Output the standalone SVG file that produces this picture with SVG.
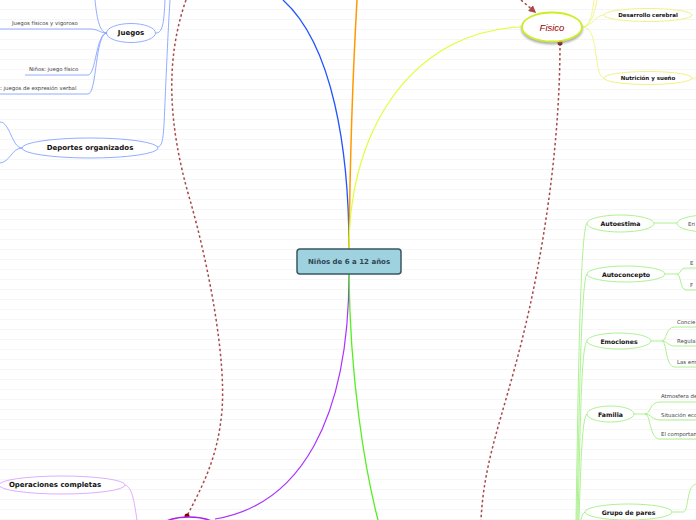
<svg xmlns="http://www.w3.org/2000/svg" width="696" height="520" viewBox="0 0 696 520">
<defs>
<pattern id="lines" width="696" height="10" patternUnits="userSpaceOnUse">
<rect width="696" height="10" fill="#ffffff"/>
<line x1="0" y1="9.5" x2="696" y2="9.5" stroke="#f6f6f6" stroke-width="1"/>
</pattern>
<marker id="arr" viewBox="0 0 10 10" refX="8" refY="5" markerWidth="5" markerHeight="5" orient="auto">
<path d="M0,0 L10,5 L0,10 z" fill="#a84848"/>
</marker>
<filter id="sh" x="-20%" y="-20%" width="140%" height="160%">
<feDropShadow dx="0" dy="2" stdDeviation="1.2" flood-color="#888" flood-opacity="0.7"/>
</filter>
</defs>
<style>
.nb{font-family:"DejaVu Sans",Verdana,sans-serif;font-weight:bold;fill:#111;text-anchor:middle;dominant-baseline:central}
.sm{font-family:"DejaVu Sans",Verdana,sans-serif;font-size:5.4px;fill:#444}
.bl{fill:none;stroke:#7799ff;stroke-width:0.8}
.gl{fill:none;stroke:#99ee77;stroke-width:0.8}
.yl{fill:none;stroke:#eef377;stroke-width:0.8}
.dash{fill:none;stroke:#a84848;stroke-width:1.5;stroke-dasharray:2.5,2.5}
.eb{fill:#fff;stroke:#7799ff;stroke-width:0.8}
.eg{fill:#fff;stroke:#99ee77;stroke-width:0.8}
.ey{fill:#fff;stroke:#eeee66;stroke-width:0.8}
</style>
<rect width="696" height="520" fill="url(#lines)"/>

<g id="connectors">
<path d="M349,249 C349,150 333,45 283,0" fill="none" stroke="#2255ff" stroke-width="1.3"/>
<path d="M349,249 C350,160 353,70 357,0" fill="none" stroke="#ff9900" stroke-width="1.5"/>
<path d="M349,249 C349,120 420,30 522,27" fill="none" stroke="#ddff33" stroke-width="1.2"/>
<path d="M349,274 C349,420 300,505 215,519" fill="none" stroke="#aa33ff" stroke-width="1.2"/>
<path d="M349,274 C350,380 365,470 378,520" fill="none" stroke="#55ee22" stroke-width="1.3"/>
<path class="bl" d="M156,33 C162,33 164,25 165,0"/>
<path class="bl" d="M157,147 C162,147 163,140 164,125 C166,80 168,30 170,0"/>
<path class="bl" d="M107,33 C100,33 97,20 95,0"/>
<path class="bl" d="M0,29 L90,29 C98,29 100,33 107,33"/>
<path class="bl" d="M25,75 L88,75 C96,75 96,33 107,33"/>
<path class="bl" d="M0,94 L88,94 C97,94 95,33 107,33"/>
<path class="bl" d="M22,148 C12,148 10,122 0,122"/>
<path class="bl" d="M22,148 C12,148 10,162 0,163"/>
<path class="yl" d="M582,27 C590,27 592,15 594,0"/>
<path class="yl" d="M582,27 C592,26 595,10 597,0"/>
<path class="yl" d="M582,27 C592,27 595,15 604,15"/>
<path class="yl" d="M582,27 C592,27 594,40 596,55 C598,70 600,78 604,78"/>
<path class="yl" d="M692,78 L696,78"/>
<path class="gl" d="M576,520 C578,400 580,230 587,223"/>
<path class="gl" d="M577,520 C579,420 581,280 587,274"/>
<path class="gl" d="M578,520 C580,440 581,345 587,341"/>
<path class="gl" d="M579,520 C581,460 582,418 587,414"/>
<path class="gl" d="M581,520 Q582,513 585,512"/>
<path class="gl" d="M654,223 L677,223" stroke-width="1.5"/>
<path class="gl" d="M665,274 L677,274" stroke="#66ee33" stroke-width="1.2"/>
<path class="gl" d="M677,274 C681,274 680,268 686,268 L696,268"/>
<path class="gl" d="M677,274 C681,274 680,290 686,290 L696,290"/>
<path class="gl" d="M651,341 L662,341" stroke="#66ee33" stroke-width="1.2"/>
<path class="gl" d="M662,341 C667,341 665,327 675,327 L696,327"/>
<path class="gl" d="M662,341 C667,341 668,346 675,346 L696,346"/>
<path class="gl" d="M662,341 C667,341 665,367 675,367 L696,367"/>
<path class="gl" d="M634,414 L645,414" stroke="#66ee33" stroke-width="2"/>
<path class="gl" d="M645,414 C651,414 649,402 660,402 L696,402"/>
<path class="gl" d="M645,414 C651,414 652,420 660,420 L696,420"/>
<path class="gl" d="M645,414 C651,414 649,439 660,439 L696,439"/>
<path class="gl" d="M672,512 L683,512" stroke="#66ee33" stroke-width="1.2"/>
<path class="gl" d="M683,512 C689,512 686,486 696,484"/>
<path d="M125,485 C132,487 134,500 137,520" fill="none" stroke="#d399ff" stroke-width="0.8"/>
<path class="dash" d="M186,0 C165,60 168,125 190,200 C210,270 226,360 222,410 C218,460 200,490 187,516"/>
<path class="dash" d="M560,43 C560,150 542,260 522,340 C502,420 484,460 481,520"/>
<path class="dash" d="M521,0 L535,12" marker-end="url(#arr)"/>
<circle cx="187" cy="516" r="2.5" fill="#8b0000"/>
<circle cx="560" cy="43" r="2.5" fill="#8b0000"/>
</g>

<g id="center">
<rect x="297" y="249" width="104" height="25" rx="3" fill="#9ed2df" stroke="#3b5666" stroke-width="1.5"/>
<text x="349" y="261.5" class="nb" style="font-size:7px;fill:#334455">Niños de 6 a 12 años</text>
</g>

<g id="juegos">
<ellipse cx="131" cy="33" rx="24.5" ry="9.5" class="eb" stroke="#6688ff"/>
<text x="131" y="33" class="nb" style="font-size:7px">Juegos</text>
</g>
<g id="juegos-fisicos"><text x="12" y="25" class="sm">Juegos físicos y vigoroso</text></g>
<g id="ninos-juego"><text x="29" y="71" class="sm">Niños: juego físico</text></g>
<g id="juegos-expresion"><text x="0" y="90" class="sm">: juegos de expresión  verbal</text></g>

<g id="deportes">
<ellipse cx="90" cy="148" rx="68" ry="10" class="eb"/>
<text x="90" y="148" class="nb" style="font-size:7px">Deportes organizados</text>
</g>

<g id="fisico">
<ellipse cx="552" cy="27" rx="30" ry="14.5" fill="#fff" stroke="#ccee22" stroke-width="1.8" filter="url(#sh)"/>
<text x="552" y="27" style="font-family:'Liberation Sans',Arial,sans-serif;font-style:italic;font-size:9.5px;fill:#a00000;text-anchor:middle;dominant-baseline:central">Fisico</text>
</g>
<g id="desarrollo">
<ellipse cx="648" cy="15" rx="44" ry="6.5" class="ey"/>
<text x="648" y="15" class="nb" style="font-size:5.5px">Desarrollo cerebral</text>
</g>
<g id="nutricion">
<ellipse cx="648" cy="78" rx="44" ry="6.5" class="ey"/>
<text x="648" y="78" class="nb" style="font-size:5.5px">Nutrición y sueño</text>
</g>

<g id="autoestima">
<ellipse cx="620.5" cy="223.5" rx="33.5" ry="8.5" class="eg"/>
<text x="620.5" y="223.5" class="nb" style="font-size:6.2px">Autoestima</text>
</g>
<g id="eri">
<ellipse cx="708" cy="223.5" rx="31" ry="8.5" class="eg"/>
<text x="688" y="225.5" class="sm">Eri</text>
</g>
<g id="autoconcepto">
<ellipse cx="626" cy="274" rx="39" ry="8" class="eg"/>
<text x="626" y="274" class="nb" style="font-size:6.2px">Autoconcepto</text>
</g>
<g id="ac-e"><text x="690" y="265" class="sm">E</text></g>
<g id="ac-f"><text x="690" y="287" class="sm">F</text></g>
<g id="emociones">
<ellipse cx="619" cy="341" rx="32" ry="8" class="eg"/>
<text x="619" y="341" class="nb" style="font-size:6.2px">Emociones</text>
</g>
<g id="em-1"><text x="677" y="324" class="sm">Concie</text></g>
<g id="em-2"><text x="677" y="343" class="sm">Regula</text></g>
<g id="em-3"><text x="677" y="364" class="sm">Las em</text></g>
<g id="familia">
<ellipse cx="610.5" cy="414" rx="23.5" ry="8" class="eg"/>
<text x="610.5" y="414" class="nb" style="font-size:6.2px">Familia</text>
</g>
<g id="fa-1"><text x="661" y="398" class="sm">Atmosfera de</text></g>
<g id="fa-2"><text x="661" y="417" class="sm">Situación eco</text></g>
<g id="fa-3"><text x="661" y="436" class="sm">El comportam</text></g>
<g id="grupo">
<ellipse cx="628.5" cy="512" rx="43.5" ry="8" class="eg"/>
<text x="628.5" y="512" class="nb" style="font-size:6.2px">Grupo de pares</text>
</g>

<g id="operaciones">
<ellipse cx="62" cy="485" rx="63" ry="9" fill="#fff" stroke="#d399ff" stroke-width="0.8"/>
<text x="55" y="485" class="nb" style="font-size:7px">Operaciones completas</text>
</g>
<g id="purple-node">
<ellipse cx="189" cy="531" rx="32" ry="14" fill="#fff" stroke="#aa22ee" stroke-width="1.5"/>
</g>
</svg>
